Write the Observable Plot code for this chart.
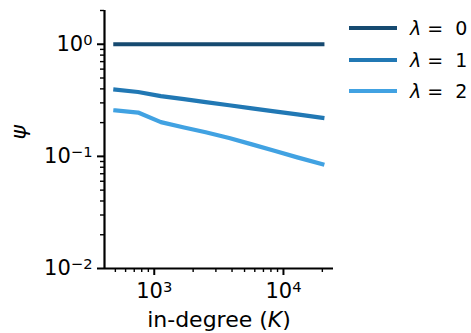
<!DOCTYPE html>
<html>
<head>
<meta charset="utf-8">
<script src="https://cdn.jsdelivr.net/npm/d3@7"></script>
<script src="https://cdn.jsdelivr.net/npm/@observablehq/plot@0.6"></script>
<style>
  html, body { margin: 0; padding: 0; background: #fff; }
  #wrap { position: relative; width: 471px; height: 333px; font-family: "DejaVu Sans", sans-serif; }
  #legend { position: absolute; left: 349px; top: 0; }
  .row { position: absolute; left: 0; width: 120px; height: 24px; }
  .sw { position: absolute; left: 0; top: 10px; width: 48px; height: 4px; }
  .lab { position: absolute; left: 61px; top: 0; font-size: 19px; line-height: 24px; white-space: pre; color: #000; }
</style>
</head>
<body>
<div id="wrap"><div id="legend"></div></div>
<script>
const degrees = [500, 750, 1125, 1700, 2500, 3800, 5700, 8500, 12800, 20000];
const psi0 = [1, 1, 1, 1, 1, 1, 1, 1, 1, 1];
const psi1 = [0.394, 0.375, 0.345, 0.324, 0.305, 0.286, 0.268, 0.252, 0.237, 0.221];
const psi2 = [0.257, 0.246, 0.202, 0.181, 0.164, 0.146, 0.128, 0.112, 0.098, 0.085];
const seriesNames = ["λ = 0", "λ = 1", "λ = 2"];
const seriesValues = [psi0, psi1, psi2];
const colors = ["#164a70", "#2178b4", "#41a2e2"];
const yMajor = [1, 0.1, 0.01];
const yMajorLabels = ["10^0", "10^−1", "10^−2"];
const xMajor = [1000, 10000];
const xMajorLabels = ["10^3", "10^4"];

const data = [];
seriesValues.forEach((vals, i) => {
  vals.forEach((v, j) => data.push({series: seriesNames[i], K: degrees[j], psi: v}));
});

const minorY = [];
for (const base of [0.01, 0.1, 1]) for (let m = 2; m <= 9; m++) if (base * m <= 2) minorY.push(base * m);
const minorX = [];
for (const base of [100, 1000, 10000]) for (let m = 2; m <= 9; m++) { const v = base * m; if (v >= 412 && v <= 24400) minorX.push(v); }

const fs = 21;
const chart = Plot.plot({
  width: 471,
  height: 333,
  marginLeft: 104,
  marginRight: 138,
  marginTop: 10,
  marginBottom: 65,
  style: {fontFamily: "DejaVu Sans, sans-serif", fontSize: fs + "px", background: "white", color: "black"},
  x: {type: "log", domain: [412, 24400]},
  y: {type: "log", domain: [0.01, 2]},
  color: {domain: seriesNames, range: colors},
  marks: [
    Plot.axisY({ticks: minorY, tickSize: 4, strokeWidth: 1.4, tickFormat: () => "", label: null}),
    Plot.axisY({ticks: yMajor, tickSize: 7, strokeWidth: 2, tickPadding: 5, tickFormat: d => yMajorLabels[yMajor.indexOf(d)], label: null, fontSize: fs}),
    Plot.axisX({ticks: minorX, tickSize: 4, strokeWidth: 1.4, tickFormat: () => "", label: null}),
    Plot.axisX({ticks: xMajor, tickSize: 7, strokeWidth: 2, tickPadding: 8, tickFormat: d => xMajorLabels[xMajor.indexOf(d)], label: null, fontSize: fs}),
    Plot.ruleX([412], {stroke: "black", strokeWidth: 2.2}),
    Plot.ruleY([0.01], {stroke: "black", strokeWidth: 2.2}),
    Plot.line(data, {x: "K", y: "psi", z: "series", stroke: "series", strokeWidth: 4.2, strokeLinecap: "square", strokeLinejoin: "round"}),
    Plot.text(["ψ"], {frameAnchor: "left", dx: -86, rotate: -90, fontSize: 22, fontStyle: "italic"}),
    Plot.text(["in-degree (K)"], {frameAnchor: "bottom", dy: 58, fontSize: 22})
  ]
});

d3.select(chart).selectAll("text").each(function() {
  const t = this.textContent;
  if (t === "in-degree (K)") {
    d3.select(this).html('in-degree (<tspan font-style="italic">K</tspan>)');
  } else if (/^10\^/.test(t)) {
    const exp = t.slice(3);
    d3.select(this).html('10<tspan dy="-0.42em" font-size="0.7em">' + exp + '</tspan>');
  }
});

document.getElementById("wrap").prepend(chart);

const legend = document.getElementById("legend");
const tops = [16, 48, 79];
seriesNames.forEach((name, i) => {
  const row = document.createElement("div");
  row.className = "row";
  row.style.top = tops[i] + "px";
  const sw = document.createElement("div");
  sw.className = "sw";
  sw.style.background = colors[i];
  const lab = document.createElement("div");
  lab.className = "lab";
  lab.innerHTML = '<i>λ</i> =  ' + name.split("= ")[1];
  row.appendChild(sw);
  row.appendChild(lab);
  legend.appendChild(row);
});
</script>
</body>
</html>
